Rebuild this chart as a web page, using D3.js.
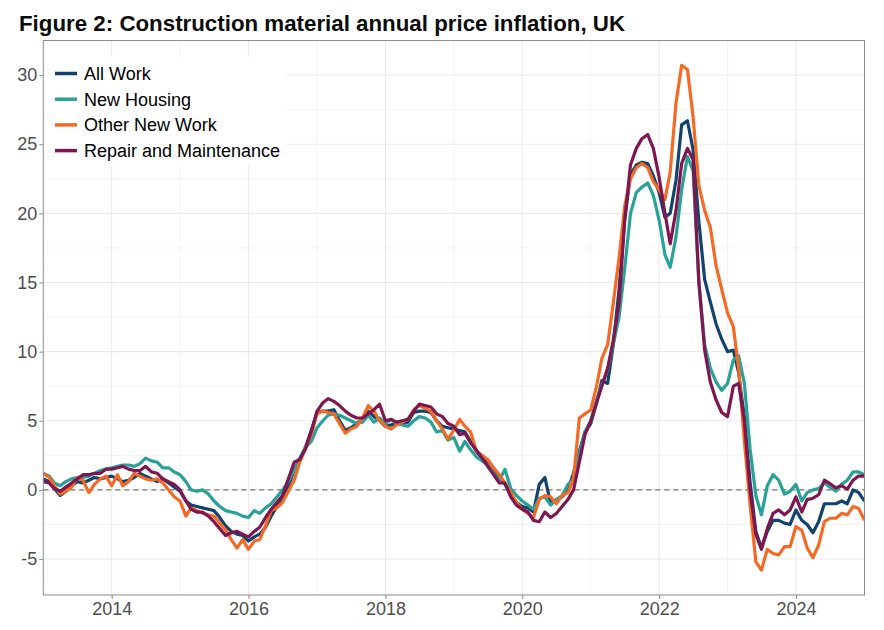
<!DOCTYPE html>
<html>
<head>
<meta charset="utf-8">
<script src="https://cdn.jsdelivr.net/npm/d3@7"></script>
<style>
  body { margin: 0; background: #fff; }
  svg { display: block; }
</style>
</head>
<body>
<svg width="884" height="630"></svg>
<script>
// monthly annual % change, Jan 2013 - Jan 2025
const allWork = [
  0.8, 0.6, 0.1, -0.4, -0.1, 0.3, 0.6, 0.5, 0.7, 0.9, 0.8, 0.9,
  1.0, 0.8, 0.6, 0.7, 0.9, 1.2, 1.0, 0.8, 0.6, 0.8, 0.5, 0.2,
  -0.1, -0.8, -1.1, -1.2, -1.3, -1.4, -1.5, -2.0, -2.6, -3.0, -3.2, -3.3,
  -3.7, -3.4, -3.2, -2.7, -1.9, -1.2, -0.7, 0.3, 1.4, 2.2, 3.1, 4.3,
  5.6, 5.7, 5.7, 5.8, 5.0, 4.3, 4.5, 4.8, 5.1, 5.7, 5.3, 5.0,
  4.6, 4.7, 4.8, 4.8, 4.9, 5.6, 5.7, 5.7, 5.6, 5.0, 4.6, 4.5,
  4.4, 4.3, 4.2, 3.5, 2.8, 2.3, 1.9, 1.4, 1.0, 0.4, -0.4, -0.9,
  -1.2, -1.3, -1.6, 0.4, 0.9, -1.0, -0.7, -0.5, 0.0, 1.2, 2.8, 4.2,
  4.8, 6.3, 7.9, 7.7, 10.5, 14.5, 19.5, 22.8, 23.5, 23.7, 23.6, 22.7,
  21.5, 19.7, 20.0, 22.4, 26.4, 26.7, 24.6, 19.4, 15.2, 13.6, 12.0, 10.9,
  10.0, 10.1, 8.5, 5.2, 0.6, -3.0, -4.2, -3.0, -2.2, -2.2, -2.4, -2.5,
  -1.45, -2.2, -2.5, -3.1, -2.3, -1.0, -1.0, -1.0, -0.8, -1.0, 0.0, -0.2,
  -0.8
];
const newHousing = [
  1.2, 1.0, 0.5, 0.3, 0.6, 0.8, 0.9, 0.9, 1.0, 1.2, 1.4, 1.5,
  1.6, 1.7, 1.8, 1.8, 1.7, 1.9, 2.3, 2.1, 2.0, 1.6, 1.6, 1.3,
  1.1, 0.6, 0.0, -0.1, 0.0, -0.3, -0.8, -1.2, -1.5, -1.6, -1.7, -1.9,
  -2.0, -1.5, -1.7, -1.3, -1.0, -0.5, 0.0, 0.6, 1.4, 2.3, 3.1, 3.5,
  4.5, 5.0, 5.4, 5.5, 5.4, 5.2, 5.0, 4.8, 4.9, 5.4, 4.9, 5.2,
  4.8, 5.1, 4.8, 4.7, 4.6, 5.0, 5.3, 5.2, 4.9, 4.2, 4.3, 3.6,
  3.8, 2.8, 3.5, 2.9, 2.4, 2.1, 1.8, 1.2, 0.7, 1.5, 0.1, -0.4,
  -0.8, -1.1, -1.4, -0.6, -0.5, -1.1, -0.7, -0.4, 0.4, 0.8, 2.6, 4.2,
  5.0, 6.5, 7.6, 8.7, 10.5, 12.5, 16.0, 20.0, 21.5, 21.9, 22.2, 21.3,
  19.5, 17.0, 16.1, 18.3, 21.7, 24.1, 23.1, 15.0, 10.5, 8.8, 7.8, 7.2,
  7.7, 9.4, 9.7, 7.7, 3.0, -0.4, -1.8, 0.3, 1.1, 0.7, -0.3, -0.1,
  0.4, -0.8, -0.2, 0.0, 0.1, 0.5, 0.2, -0.1, 0.4, 0.7, 1.3, 1.3,
  1.1
];
const otherNewWork = [
  1.2, 0.9, 0.3, -0.3, -0.1, 0.2, 0.9, 0.7, -0.2, 0.4, 0.8, 1.0,
  0.3, 1.1, 0.3, 0.6, 1.2, 1.0, 0.8, 0.7, 0.8, 0.5, 0.0, -0.5,
  -0.8, -1.9, -1.3, -1.5, -1.7, -1.8, -1.9, -2.4, -2.9, -3.6, -4.2, -3.6,
  -4.3, -3.7, -3.6, -2.6, -1.5, -1.3, -0.9, -0.1, 0.7, 2.0, 3.0, 4.0,
  5.5, 5.7, 5.6, 5.5, 4.8, 4.1, 4.4, 4.6, 5.2, 6.1, 5.7, 5.0,
  4.6, 4.4, 4.7, 4.9, 5.1, 5.8, 6.1, 5.9, 5.7, 5.0, 4.4, 3.7,
  4.3, 5.1, 4.6, 4.2, 2.8, 2.5, 2.2, 1.6, 1.1, 0.5, -0.2, -0.9,
  -1.4, -1.7, -2.0, -0.7, -0.4, -0.5, -1.0, -0.4, -0.2, 0.8, 5.2, 5.5,
  5.8, 7.5, 9.5, 10.5, 13.5, 16.8, 20.5, 22.5, 23.3, 23.6, 23.3, 22.3,
  21.7, 21.0, 23.0, 28.0, 30.7, 30.4, 27.0, 22.0, 20.2, 19.0, 16.2, 14.5,
  12.8, 11.8, 8.8, 3.5, -1.0, -5.2, -5.8, -4.3, -4.6, -4.7, -4.1, -4.1,
  -2.65, -2.9, -4.2, -4.9, -4.0, -2.3, -2.05, -2.05, -1.7, -1.8, -1.2, -1.35,
  -2.2
];
const repairMaintenance = [
  0.6, 0.5, 0.1, -0.1, 0.2, 0.5, 0.8, 1.1, 1.1, 1.2, 1.2, 1.5,
  1.5, 1.6, 1.7, 1.5, 1.4, 1.4, 1.7, 1.3, 1.2, 0.8, 0.6, 0.4,
  0.0, -0.8, -1.4, -1.6, -1.6, -1.9, -2.3, -2.8, -3.3, -3.1, -3.0, -3.2,
  -3.4, -3.0, -2.7, -2.0, -1.4, -0.9, -0.4, 0.8, 2.0, 2.2, 3.0, 4.2,
  5.7, 6.3, 6.6, 6.4, 6.1, 5.7, 5.4, 5.2, 5.2, 5.5, 5.8, 6.2,
  5.0, 5.1, 4.9, 5.0, 5.1, 5.7, 6.2, 6.1, 6.0, 5.5, 5.3, 4.8,
  4.6, 4.0, 4.1, 3.4, 2.9, 2.3, 1.7, 1.1, 0.5, 0.5, -0.5, -1.1,
  -1.4, -1.6, -2.2, -2.3, -1.6, -2.0, -1.7, -1.2, -0.7, 0.0, 2.0, 4.0,
  5.0, 6.3, 7.5, 8.8, 10.8, 13.5, 19.5, 23.5, 24.7, 25.4, 25.7, 24.7,
  22.6, 20.0, 17.8, 20.2, 23.6, 24.7, 23.9, 15.0, 10.1, 7.8, 6.5, 5.6,
  5.3, 7.5, 7.7, 5.0, 0.0, -3.2, -4.3, -2.8, -1.7, -1.45, -1.8, -1.45,
  -0.5, -1.6, -0.7, -0.6, -0.35, 0.7, 0.45, 0.15, 0.3, 0.05, 0.7, 1.0,
  1.0
];

const seriesNames = ['All Work', 'New Housing', 'Other New Work', 'Repair and Maintenance'];
const seriesColors = ['#12436D', '#28A197', '#F46A25', '#801650'];
const seriesValues = [allWork, newHousing, otherNewWork, repairMaintenance];
const yTicks = [-5, 0, 5, 10, 15, 20, 25, 30];
const yMinor = [-7.5, -2.5, 2.5, 7.5, 12.5, 17.5, 22.5, 27.5];
const xTickYears = [2014, 2016, 2018, 2020, 2022, 2024];
const xMinorYears = [2015, 2017, 2019, 2021, 2023];

const months = d3.timeMonth.range(new Date(2013, 0, 1), new Date(2025, 1, 1));

const svg = d3.select('svg');
const plotLeft = 43.3, plotRight = 864.5, plotTop = 40.5, plotBottom = 595;

const x = d3.scaleTime()
  .domain([months[0], months[months.length - 1]])
  .range([plotLeft, plotRight]);
const y = d3.scaleLinear()
  .domain([-7.6, 32.5])
  .range([plotBottom, plotTop]);

// title
const title = svg.append('text')
  .attr('x', 19)
  .attr('y', 31)
  .attr('font-family', 'Liberation Sans, Arial, sans-serif')
  .attr('font-weight', 'bold')
  .attr('font-size', 22)
  .attr('fill', '#0b0c0c')
  .text('Figure 2: Construction material annual price inflation, UK');
title.attr('textLength', 606).attr('lengthAdjust', 'spacingAndGlyphs');

// grid
const grid = svg.append('g');
grid.selectAll('line.ymin').data(yMinor).join('line')
  .attr('x1', plotLeft).attr('x2', plotRight)
  .attr('y1', d => y(d)).attr('y2', d => y(d))
  .attr('stroke', '#f0f0f0').attr('stroke-width', 0.8);
grid.selectAll('line.xmin').data(xMinorYears).join('line')
  .attr('y1', plotTop).attr('y2', plotBottom)
  .attr('x1', d => x(new Date(d, 0, 1))).attr('x2', d => x(new Date(d, 0, 1)))
  .attr('stroke', '#f0f0f0').attr('stroke-width', 0.8);
grid.selectAll('line.ymaj').data(yTicks).join('line')
  .attr('x1', plotLeft).attr('x2', plotRight)
  .attr('y1', d => y(d)).attr('y2', d => y(d))
  .attr('stroke', '#ebebeb').attr('stroke-width', 1.1);
grid.selectAll('line.xmaj').data(xTickYears).join('line')
  .attr('y1', plotTop).attr('y2', plotBottom)
  .attr('x1', d => x(new Date(d, 0, 1))).attr('x2', d => x(new Date(d, 0, 1)))
  .attr('stroke', '#ebebeb').attr('stroke-width', 1.1);

// zero line
svg.append('line')
  .attr('x1', plotLeft).attr('x2', plotRight)
  .attr('y1', y(0)).attr('y2', y(0))
  .attr('stroke', '#777').attr('stroke-width', 1.1)
  .attr('stroke-dasharray', '5,4');

// legend background hides grid
svg.append('rect')
  .attr('x', plotLeft + 1).attr('y', 57)
  .attr('width', 242).attr('height', 109)
  .attr('fill', '#fff');

// lines
svg.append('clipPath').attr('id', 'plotclip')
  .append('rect').attr('x', plotLeft).attr('y', plotTop)
  .attr('width', plotRight - plotLeft).attr('height', plotBottom - plotTop);

const line = d3.line()
  .x((d, i) => x(months[i]))
  .y(d => y(d));

svg.append('g').attr('clip-path', 'url(#plotclip)')
  .selectAll('path').data(seriesValues).join('path')
  .attr('d', d => line(d))
  .attr('fill', 'none')
  .attr('stroke', (d, i) => seriesColors[i])
  .attr('stroke-width', 3.2)
  .attr('stroke-linejoin', 'round');

// panel border
svg.append('rect')
  .attr('x', plotLeft).attr('y', plotTop)
  .attr('width', plotRight - plotLeft).attr('height', plotBottom - plotTop)
  .attr('fill', 'none').attr('stroke', '#8c8c8c').attr('stroke-width', 1);

// axes
const yAxis = svg.append('g')
  .attr('transform', `translate(${plotLeft},0)`)
  .call(d3.axisLeft(y).tickValues(yTicks)
    .tickFormat(d => String(d))
    .tickSize(4).tickPadding(2));
const xAxis = svg.append('g')
  .attr('transform', `translate(0,${plotBottom})`)
  .call(d3.axisBottom(x)
    .tickValues(xTickYears.map(d => new Date(d, 0, 1)))
    .tickFormat(d3.timeFormat('%Y'))
    .tickSize(4).tickPadding(3));

[yAxis, xAxis].forEach(ax => {
  ax.select('.domain').remove();
  ax.selectAll('.tick line').attr('stroke', '#8c8c8c');
  ax.selectAll('.tick text')
    .attr('fill', '#4d4d4d')
    .attr('font-family', 'Liberation Sans, Arial, sans-serif')
    .attr('font-size', 18);
});

// legend
const legend = svg.append('g');
const rows = legend.selectAll('g').data(seriesNames).join('g')
  .attr('transform', (d, i) => `translate(0,${73.5 + i * 25.7})`);
rows.append('line')
  .attr('x1', 55).attr('x2', 77)
  .attr('stroke', (d, i) => seriesColors[i])
  .attr('stroke-width', 3.5);
rows.append('text')
  .attr('x', 84).attr('y', 6.5)
  .attr('font-family', 'Liberation Sans, Arial, sans-serif')
  .attr('font-size', 18)
  .attr('fill', '#000')
  .text(d => d);
</script>
</body>
</html>
